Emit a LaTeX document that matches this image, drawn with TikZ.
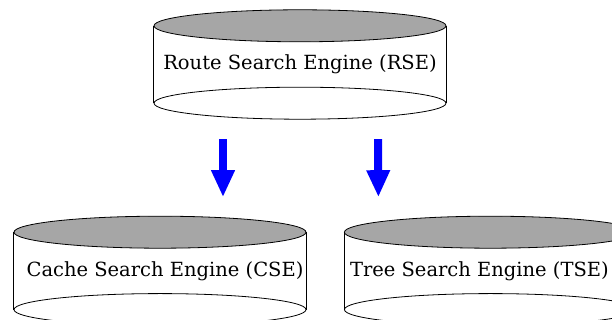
\documentclass[tikz,border=0pt]{standalone}
\usepackage{fontspec}
\setmainfont{DejaVu Serif}
\usetikzlibrary{positioning,arrows.meta}

\begin{document}
\begin{tikzpicture}[x=1pt,y=1pt,
engine/.style={
	% The size:
	minimum width=292pt,
	minimum height=77pt,
	inner sep=0pt,
	% Font
	font=\fontsize{19.5}{23}\selectfont},
lid/.style={
	% The border:
	draw=black,line width=0.8pt,
	% The filling:
	fill=black!35},
wall/.style={draw=black,line width=0.8pt},
flow/.style={
	% The shaft:
	draw=blue,line width=8pt,
	% The head:
	-{Triangle[width=22pt,length=27pt]}},
node distance=129pt and 38pt]

\useasboundingbox (0,0) rectangle (612,320);

%Begin engines
\node (rse) [engine] at (300,255.5) {Route Search Engine (RSE)};
\node (cse) [engine,below=of rse,xshift=-140pt] {\hspace*{10pt}Cache Search Engine (CSE)};
\node (tse) [engine,right=of cse] {Tree Search Engine (TSE)\hspace*{22pt}};

% Now come the cylinders...
\foreach \e in {rse,cse,tse}{
\draw[wall] (\e.north west) -- (\e.south west)
            (\e.north east) -- (\e.south east);
\draw[wall] (\e.south) ellipse [x radius=146pt,y radius=16pt];
\draw[lid] (\e.north) ellipse [x radius=146pt,y radius=16pt];
}

% and the arrows
\draw[flow] ([xshift=-77pt,yshift=-36pt]rse.south) -- ([xshift=63pt,yshift=35pt]cse.north);
\draw[flow] ([xshift=78pt,yshift=-36pt]rse.south) -- ([xshift=-112pt,yshift=35pt]tse.north);

\end{tikzpicture}
\end{document}
